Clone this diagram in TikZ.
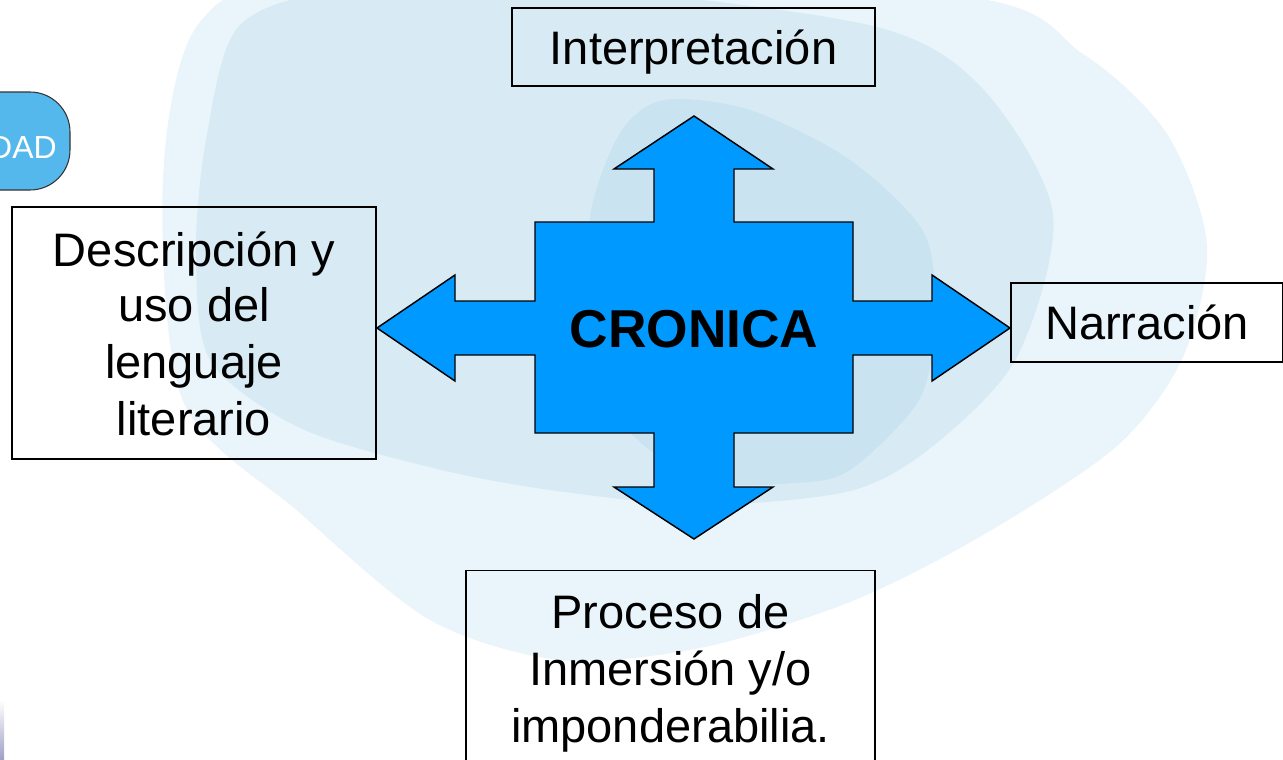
\documentclass[tikz,border=0pt]{standalone}
\usepackage{fontspec}
\setmainfont{Liberation Sans}

\definecolor{paleblob}{HTML}{EAF5FB}
\definecolor{midblob}{HTML}{D8EBF5}
\definecolor{innerblob}{HTML}{C9E3F0}
\definecolor{crossblue}{HTML}{0099FF}
\definecolor{dadblue}{HTML}{55B8EC}

\tikzset{
  textbox/.style={draw=black,line width=1.1pt,align=center,inner sep=0pt,
    font=\fontsize{35.25}{42.75}\selectfont},
}

\begin{document}
\begin{tikzpicture}[x=0.75pt,y=-0.75pt]
\useasboundingbox (0,0) rectangle (1283,760);
\clip (0,0) rectangle (1283,760);

% background blobs
\fill[white] (0,0) rectangle (1283,760);
\fill[paleblob] plot[smooth cycle] coordinates {(163,178) (200,22) (330,-15) (950,-5) (1083,54) (1167,134) (1207,245) (1183,357) (1117,446) (983,535) (850,602) (700,648) (560,660) (430,620) (300,513) (183,401)};
\fill[midblob] plot[smooth cycle] coordinates {(207,134) (240,25) (350,-10) (600,-10) (877,27) (983,89) (1053,214) (1017,357) (933,446) (850,491) (700,505) (550,490) (433,468) (300,428) (210,360) (196,250)};
\fill[innerblob] plot[smooth cycle] coordinates {(590,217) (620,133) (664,100) (750,110) (850,160) (924,233) (935,320) (919,400) (850,470) (794,483) (700,480) (620,420) (595,320)};
\shade[top color=white,bottom color=blue!25!gray!60] (0,700) rectangle (4,760);

% DAD blob
\filldraw[fill=dadblue,draw=black!80,line width=0.8pt,rounded corners=30pt] (-60,92) rectangle (70,190);
\node[anchor=east,text=white,inner sep=0pt,font=\fontsize{24}{24}\selectfont] (dad) at (57,147) {DAD};

% cross
\filldraw[fill=crossblue,draw=black,line width=1.1pt]
  (694,116) -- (773,169) -- (734,169) -- (734,222) -- (853,222) -- (853,301)
  -- (932,301) -- (932,275) -- (1010,328) -- (932,381) -- (932,355) -- (853,355)
  -- (853,433) -- (734,433) -- (734,487) -- (773,487) -- (694,539) -- (614,487)
  -- (654,487) -- (654,433) -- (535,433) -- (535,355) -- (455,355) -- (455,381)
  -- (377,328) -- (455,275) -- (455,301) -- (535,301) -- (535,222) -- (654,222)
  -- (654,169) -- (614,169) -- cycle;
\node[font=\fontsize{40}{40}\bfseries\selectfont,inner sep=0pt] (cronica) at (694,329) {CRONICA};

% boxes
\node[textbox,minimum width=272.25pt,minimum height=58.5pt] (interp) at (693.5,47) {\raisebox{-4pt}[\height][\depth]{Interpretación}};
\node[textbox,minimum width=273pt,minimum height=189pt] (descr) at (194,333) {\raisebox{-1.5pt}[\height][\depth]{Descripción y}\\uso del\\lenguaje\\literario};
\node[textbox,minimum width=204pt,minimum height=59.25pt] (narr) at (1147,322.5) {Narración};
\node[textbox,anchor=north,minimum width=306.75pt,inner ysep=18pt] (proc) at (670.5,570) {Proceso de\\Inmersión y/o\\imponderabilia.};
\end{tikzpicture}
\end{document}
